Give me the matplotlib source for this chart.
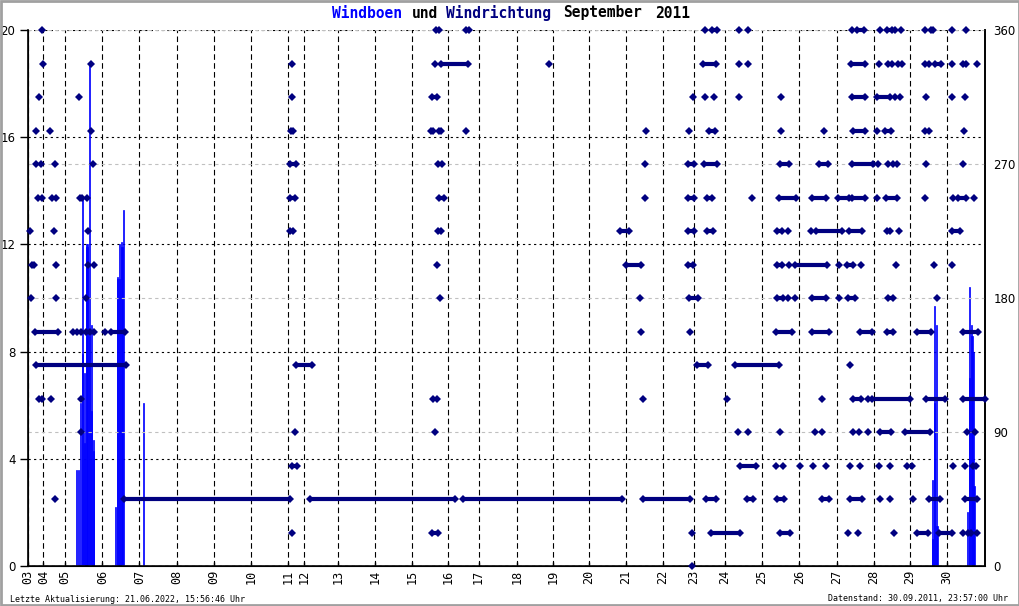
import matplotlib
matplotlib.use("Agg")
import matplotlib.pyplot as plt
from matplotlib.patches import Rectangle

# x-Achse: Stunden mit Messdaten seit Beginn der Aufzeichnung (Luecken fehlen)
tage = ["03", "04", "05", "06", "07", "08", "09", "10", "11", "12", "13", "14", "15", "16",
        "17", "18", "19", "20", "21", "22", "23", "24", "25", "26", "27", "28", "29", "30"]
tag_start = [0, 10, 24, 48, 72, 96, 120, 144, 168, 178, 200, 224, 248, 271,
             291, 316, 339, 362, 386, 410, 430, 450, 474, 498, 522.5, 546, 569.6, 593.5]
x_ende = 618

# Windboen in m/s (nur dort, wo welche gemessen wurden)
boe_x = [31.6, 32.3, 34.2, 34.9, 35.5, 36.2, 36.8, 37.5, 38.1, 38.7, 39.4, 40.0, 40.7, 41.3, 42.0, 42.6,
         56.8, 57.5, 58.1, 58.8, 59.4, 60.1, 60.7, 61.4,
         74.3,
         583.8, 584.4, 585.1, 585.7, 586.4, 587.0,
         607.0, 607.7, 608.3, 609.0, 609.6, 610.3, 610.9]
boe_v = [3.6, 3.6, 6.1, 7.9, 13.8, 4.6, 7.2, 12.0, 11.9, 12.0, 8.6, 18.75, 9.0, 5.8, 4.7, 4.3,
         2.2, 10.7, 10.8, 10.7, 12.0, 12.1, 11.9, 13.3,
         6.1,
         1.0, 3.2, 6.1, 9.7, 9.0, 1.5,
         2.0, 7.0, 10.4, 9.0, 8.6, 8.0, 3.0]

# Windrichtung: Einzelwerte und Folgen gleicher Richtung (Start, Ende)
n_pts = [9.0, 263.5, 265.4, 437.2, 459.2, 465.0, 532.1, 550.2, 559.9, 563.8, 579.3, 596.8, 605.8]
n_runs = [(282.9, 284.8), (441.7, 445.0), (535.4, 539.9), (554.8, 558.0), (583.2, 584.5)]
nnw_pts = [9.7, 40.7, 170.5, 262.8, 336.5, 459.2, 465.0, 549.6, 596.8, 612.9]
nnw_runs = [(266.7, 284.2), (435.9, 444.3), (531.5, 540.5), (555.4, 558.0), (561.8, 564.4),
            (579.3, 581.9), (585.7, 589.6), (603.8, 605.8)]
nw_pts = [7.1, 32.9, 170.5, 429.5, 437.2, 443.0, 459.2, 486.3, 559.9, 563.1, 580.0, 596.8, 605.1]
nw_runs = [(260.9, 264.1), (532.1, 540.5), (548.3, 556.7)]
wnw_pts = [5.2, 14.2, 40.7, 169.8, 171.1, 260.3, 261.5, 265.4, 266.7, 282.9, 399.1, 426.8,
           486.3, 514.0, 548.3, 604.5]
wnw_runs = [(439.8, 443.7), (532.8, 540.5), (553.4, 557.3), (579.3, 581.9)]
w_pts = [5.2, 8.4, 17.4, 42.0, 398.5, 548.9, 555.4, 558.6, 561.2, 580.0, 603.8]
w_runs = [(169.2, 173.1), (264.8, 267.4), (426.2, 430.1), (436.5, 445.0), (485.6, 491.5),
          (510.8, 516.6), (532.1, 545.7)]
wsw_pts = [6.5, 9.0, 15.5, 18.1, 33.6, 34.9, 38.1, 398.5, 467.6, 548.3, 579.3, 597.4, 610.9]
wsw_runs = [(169.2, 172.4), (265.4, 268.7), (426.2, 430.1), (438.5, 441.7), (485.0, 496.0),
            (506.3, 515.4), (523.1, 530.2), (532.1, 540.5), (554.1, 561.2), (600.6, 605.8)]
sw_pts = [1.3, 16.8, 38.7, 490.8, 505.7, 562.5]
sw_runs = [(169.2, 171.1), (264.8, 266.7), (382.3, 388.1), (426.2, 430.1), (438.5, 442.4),
           (483.7, 486.9), (509.0, 525.8), (530.2, 538.6), (554.8, 556.7), (596.8, 601.9)]
ssw_pts = [2.6, 3.9, 18.1, 38.7, 42.6, 264.1, 491.5, 523.7, 537.9, 560.5, 585.1, 596.8]
ssw_runs = [(386.2, 395.9), (426.2, 429.5), (483.7, 486.9), (495.3, 516.0), (528.9, 532.8)]
s_pts = [1.9, 18.1, 37.5, 266.1, 395.2, 490.8, 495.3, 523.7, 587.0]
s_runs = [(426.9, 432.7), (483.7, 487.6), (506.3, 515.4), (529.6, 534.1), (555.4, 558.6)]
sse_pts = [29.1, 31.6, 34.2, 37.5, 40.0, 42.6, 49.7, 395.9, 427.5]
sse_runs = [(4.5, 19.4), (53.6, 62.6), (483.1, 493.4), (506.3, 517.3), (537.3, 545.0),
            (554.8, 558.6), (574.1, 583.2), (603.8, 613.5)]
se_pts = [530.8]
se_runs = [(5.2, 63.3), (173.1, 183.4), (432.0, 439.1), (456.6, 485.0)]
ese_pts = [7.1, 9.0, 14.9, 34.2, 261.5, 264.1, 397.2, 451.4, 512.8, 542.5]
ese_runs = [(532.8, 537.9), (545.0, 569.6), (580.0, 592.2), (603.8, 618.0)]
e_pts = [34.2, 172.4, 262.8, 458.5, 465.0, 485.6, 508.2, 512.8, 532.8, 536.7, 542.5, 606.4, 611.6]
e_runs = [(550.2, 557.3), (566.4, 582.5)]
ene_pts = [483.1, 487.6, 498.6, 507.0, 515.4, 530.8, 537.3, 549.6, 556.7, 567.7, 570.9,
           597.4, 605.1, 610.3, 612.2]
ene_runs = [(170.5, 173.7), (459.8, 470.2)]
ne_pts = [17.4, 550.2, 556.7, 571.5]
ne_runs = [(62.0, 169.2), (182.1, 275.8), (280.9, 383.6), (397.2, 427.5), (437.8, 444.3),
           (464.3, 468.2), (483.7, 488.2), (512.8, 517.3), (530.8, 538.6), (581.9, 589.0),
           (605.1, 612.9)]
nne_pts = [170.5, 428.8, 529.6, 536.0, 559.3, 603.8, 607.0, 609.0, 612.9]
nne_runs = [(260.9, 264.8), (441.1, 459.8), (485.6, 492.1), (574.1, 581.2), (588.4, 596.8)]
null_pts = [428.8]
null_runs = []

richtungen = [(360, n_pts, n_runs), (337.5, nnw_pts, nnw_runs), (315, nw_pts, nw_runs),
              (292.5, wnw_pts, wnw_runs), (270, w_pts, w_runs), (247.5, wsw_pts, wsw_runs),
              (225, sw_pts, sw_runs), (202.5, ssw_pts, ssw_runs), (180, s_pts, s_runs),
              (157.5, sse_pts, sse_runs), (135, se_pts, se_runs), (112.5, ese_pts, ese_runs),
              (90, e_pts, e_runs), (67.5, ene_pts, ene_runs), (45, ne_pts, ne_runs),
              (22.5, nne_pts, nne_runs), (0, null_pts, null_runs)]

navy = "#000080"
blau = "#0000ff"
mono = "DejaVu Sans Mono"

fig = plt.figure(figsize=(10.2, 6.06), dpi=100)
fig.patch.set_facecolor("white")
ax = fig.add_axes([28 / 1020, 40 / 606, 957 / 1020, 536 / 606])
ax.set_xlim(0, x_ende)
ax.set_ylim(0, 20)

# Boeen als senkrechte Balken
ax.bar(boe_x, boe_v, width=0.66, color=blau, edgecolor=blau, linewidth=0.5, zorder=2)

ax.set_yticks([0, 4, 8, 12, 16, 20])
ax.set_xticks(tag_start)
ax.set_xticklabels(tage, rotation=90, family=mono, fontsize=8.5)
ax.tick_params(axis="y", direction="out", length=6, width=1, pad=3, labelsize=8.5)
ax.tick_params(axis="x", direction="in", length=3, width=1, pad=3)
ax.yaxis.grid(True, linestyle=(0, (2, 3)), color="black", linewidth=0.8)
ax.xaxis.grid(True, linestyle=(0, (5, 3)), color="black", linewidth=0.8)
ax.set_axisbelow(True)
ax.spines["top"].set_visible(False)
for s in ["left", "right", "bottom"]:
    ax.spines[s].set_linewidth(1.2)

ax2 = ax.twinx()
ax2.set_ylim(0, 360)
ax2.set_yticks([0, 90, 180, 270, 360])
ax2.tick_params(axis="y", length=0, pad=6, labelsize=8.5)
ax2.yaxis.grid(True, linestyle=(0, (3, 3)), color="#c0c0c0", linewidth=0.8)
ax2.set_axisbelow(True)
ax2.spines["top"].set_visible(False)
ax2.spines["right"].set_linewidth(1.2)

for grad, pts, runs in richtungen:
    if pts:
        ax2.plot(pts, [grad] * len(pts), linestyle="none", marker="D", ms=3.6, mew=0,
                 color=navy, clip_on=False, zorder=3)
    for a, b in runs:
        ax2.plot([a, b], [grad, grad], color=navy, lw=3.0, solid_capstyle="butt",
                 marker="D", ms=3.6, mew=0, clip_on=False, zorder=3)

# Titel in Worten, weil die Farben wechseln
ty = 1 - 13 / 606
for wort, px, farbe in [("Windboen", 332, blau), ("und", 412, "black"),
                        ("Windrichtung", 446, navy), ("September", 563, "black"),
                        ("2011", 655, "black")]:
    fig.text(px / 1020, ty, wort, color=farbe, family=mono, fontsize=10.5,
             fontweight="bold", ha="left", va="center")

fig.text(10 / 1020, 1 - 599 / 606, "Letzte Aktualisierung: 21.06.2022, 15:56:46 Uhr",
         family=mono, fontsize=6, ha="left", va="center")
fig.text(1008 / 1020, 1 - 599 / 606, "Datenstand: 30.09.2011, 23:57:00 Uhr",
         family=mono, fontsize=6, ha="right", va="center")

fig.patches.append(Rectangle((0.001, 0.001), 0.998, 0.998, transform=fig.transFigure,
                             fill=False, edgecolor="#a0a0a0", linewidth=2))

fig.savefig("out.png", dpi=100)
